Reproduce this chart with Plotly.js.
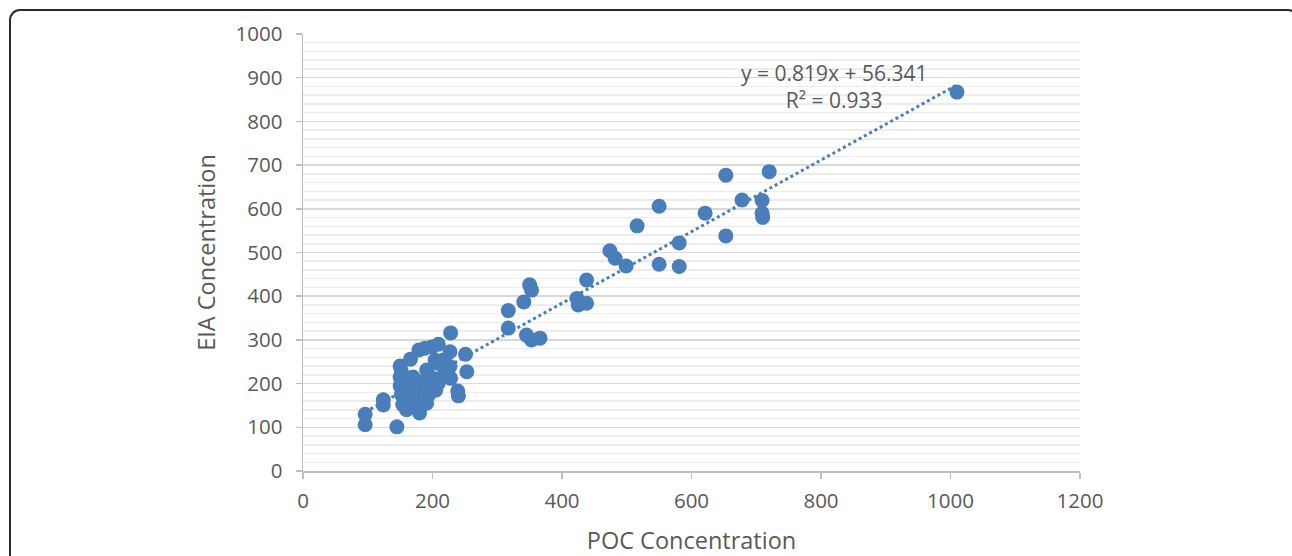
<!DOCTYPE html>
<html>
<head>
<meta charset="utf-8">
<script src="https://cdn.plot.ly/plotly-3.0.1.min.js"></script>
<style>
  html, body { margin: 0; padding: 0; background: #ffffff; overflow: hidden; }
  #frame { position: absolute; left: 9px; top: 9px; width: 1290px; height: 600px;
           border: 2px solid #2b2b2b; border-radius: 11px; box-sizing: border-box; }
  #chart { position: absolute; left: 0; top: 0; width: 1292px; height: 556px; }
</style>
</head>
<body>
<div id="frame"></div>
<div id="chart"></div>
<script>
// POC concentration (x) and EIA concentration (y)
const pocValues = [
  1010, 720, 653, 678, 709, 709, 710, 621, 581, 653,
  550, 516, 550, 581, 474, 482, 499, 438, 423, 425,
  438, 350, 353, 341, 317, 317, 345, 353, 366,
  96, 96, 124, 124, 145, 150, 152, 150, 153, 150,
  155, 152, 157, 154, 160, 166, 179, 188, 199, 209,
  168, 160, 165, 172, 176, 180, 185, 191, 194, 201,
  196, 191, 186, 204, 209, 217, 222, 212, 209, 227,
  228, 227, 228, 251, 253, 239, 240, 205, 200, 175, 170
];
const eiaValues = [
  867, 685, 677, 620, 619, 590, 580, 590, 522, 538,
  606, 561, 473, 468, 504, 487, 469, 437, 395, 380,
  384, 426, 414, 387, 367, 327, 311, 300, 304,
  130, 106, 163, 151, 101, 240, 228, 215, 205, 195,
  185, 175, 165, 152, 140, 256, 277, 281, 284, 290,
  200, 185, 162, 175, 147, 133, 155, 155, 174, 193,
  216, 231, 205, 254, 246, 254, 227, 212, 201, 239,
  212, 273, 316, 267, 227, 183, 172, 185, 205, 190, 215
];
// Linear trendline reported on the chart
const slope = 0.819;
const intercept = 56.341;
const equationText = 'y = 0.819x + 56.341';
const r2Text = 'R² = 0.933';
const xTitle = 'POC Concentration';
const yTitle = 'EIA Concentration';

const xMin = Math.min(...pocValues), xMax = Math.max(...pocValues);
const trendX = [xMin, xMax];
const trendY = trendX.map(v => slope * v + intercept);

const blue = '#4a7ebb';
const textGrey = '#595959';
const fontFam = '"Open Sans", Lato, sans-serif';

const data = [
  { x: trendX, y: trendY, type: 'scatter', mode: 'lines',
    line: { color: blue, width: 3, dash: 'dot' }, hoverinfo: 'skip', showlegend: false },
  { x: pocValues, y: eiaValues, type: 'scatter', mode: 'markers',
    marker: { color: blue, size: 15, line: { width: 0 } }, showlegend: false }
];

const layout = {
  width: 1292, height: 556, autosize: false,
  paper_bgcolor: 'rgba(0,0,0,0)', plot_bgcolor: 'rgba(0,0,0,0)',
  margin: { l: 303, r: 212, t: 34, b: 85 },
  font: { family: fontFam, color: textGrey, size: 18 },
  showlegend: false,
  xaxis: {
    range: [0, 1200], dtick: 200, tick0: 0,
    showgrid: false, zeroline: false,
    showline: true, linecolor: '#bfbfbf', linewidth: 1.5,
    ticks: 'outside', ticklen: 6, tickcolor: '#bfbfbf', tickwidth: 1.5,
    ticklabelstandoff: 5,
    tickfont: { family: fontFam, size: 20.5, color: textGrey },
    title: { text: xTitle, font: { family: fontFam, size: 23.5, color: textGrey }, standoff: 22 }
  },
  yaxis: {
    range: [0, 1000], dtick: 100, tick0: 0,
    showgrid: true, gridcolor: '#d9d9d9', gridwidth: 1.5,
    minor: { dtick: 20, showgrid: true, gridcolor: '#ececec', gridwidth: 1.5 },
    zeroline: false,
    showline: true, linecolor: '#bfbfbf', linewidth: 1.5,
    ticks: 'outside', ticklen: 6, tickcolor: '#bfbfbf', tickwidth: 1.5,
    ticklabelstandoff: 9,
    tickfont: { family: fontFam, size: 20.5, color: textGrey },
    title: { text: yTitle, font: { family: fontFam, size: 23.5, color: textGrey }, standoff: 13 }
  },
  annotations: [
    { x: 820, y: 880, xref: 'x', yref: 'y', text: equationText + '<br>' + r2Text,
      showarrow: false, align: 'center', borderpad: 0,
      font: { family: fontFam, size: 21, color: textGrey } }
  ]
};

Plotly.newPlot('chart', data, layout, { displayModeBar: false, staticPlot: true });
</script>
</body>
</html>
